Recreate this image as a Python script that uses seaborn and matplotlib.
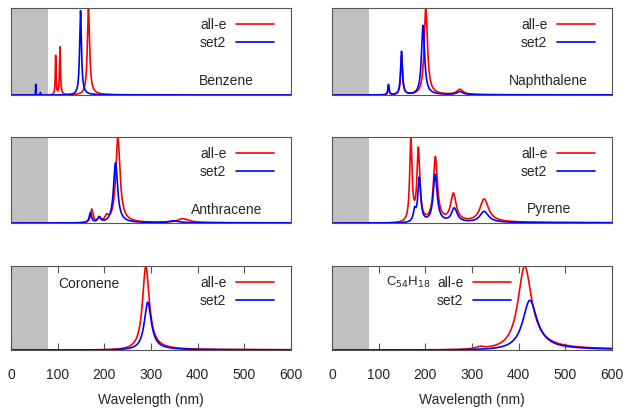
import numpy as np
import pandas as pd
import matplotlib
matplotlib.use("Agg")
import matplotlib.pyplot as plt
import seaborn as sns

sns.set_style("white")
plt.rcParams['font.family'] = ['Liberation Sans', 'DejaVu Sans']
plt.rcParams['font.size'] = 10

# ---- data: peak positions (nm) and apparent heights (relative) ----
benz_alle_nm = [95.7, 105, 166]
benz_alle_h = [0.45, 0.55, 1.0]
benz_set2_nm = [53, 63, 149]
benz_set2_h = [0.13, 0.03, 0.97]

naph_alle_nm = [121, 149, 201, 274]
naph_alle_h = [0.10, 0.45, 1.0, 0.06]
naph_set2_nm = [121, 149, 195, 274]
naph_set2_h = [0.12, 0.50, 0.80, 0.035]

anth_alle_nm = [173, 189, 205, 229, 368]
anth_alle_h = [0.15, 0.05, 0.06, 0.97, 0.045]
anth_set2_nm = [170, 189, 224, 348]
anth_set2_h = [0.11, 0.06, 0.68, 0.022]

pyr_alle_nm = [169, 185, 221.5, 260, 326]
pyr_alle_h = [0.90, 0.78, 0.70, 0.30, 0.25]
pyr_set2_nm = [177, 187, 221, 262, 326]
pyr_set2_h = [0.12, 0.48, 0.52, 0.15, 0.12]

cor_alle_nm = [289]
cor_alle_h = [1.0]
cor_set2_nm = [293]
cor_set2_h = [0.57]

c54_alle_nm = [317, 413]
c54_alle_h = [0.025, 0.98]
c54_set2_nm = [424]
c54_set2_h = [0.58]

names = ["Benzene", "Naphthalene", "Anthracene", "Pyrene", "Coronene", r"C$_{54}$H$_{18}$"]
alle = [(benz_alle_nm, benz_alle_h), (naph_alle_nm, naph_alle_h), (anth_alle_nm, anth_alle_h),
        (pyr_alle_nm, pyr_alle_h), (cor_alle_nm, cor_alle_h), (c54_alle_nm, c54_alle_h)]
set2 = [(benz_set2_nm, benz_set2_h), (naph_set2_nm, naph_set2_h), (anth_set2_nm, anth_set2_h),
        (pyr_set2_nm, pyr_set2_h), (cor_set2_nm, cor_set2_h), (c54_set2_nm, c54_set2_h)]

HWHM_EV = 0.13
wl = np.linspace(1, 600, 3000)


def spectrum(peaks):
    pos, h = peaks
    E = 1239.84 / wl
    s = np.zeros_like(wl)
    for p, a in zip(pos, h):
        E0 = 1239.84 / p
        s += a * HWHM_EV**2 / ((E - E0)**2 + HWHM_EV**2)
    return s


W, H = 626, 411
fig = plt.figure(figsize=(W / 100, H / 100), dpi=100)

col_left = [11, 332]
rows = [(8, 95), (137, 223), (266, 350)]

label_pos = [
    (0.868, 0.16, 'right', 10), (0.914, 0.16, 'right', 10),
    (0.896, 0.15, 'right', 10), (0.854, 0.16, 'right', 10),
    (0.168, 0.78, 'left', 10), (0.193, 0.80, 'left', 9.5),
]
legend_x = [0.973, 0.973, 0.973, 0.973, 0.973, 0.673]

for i, name in enumerate(names):
    r, c = divmod(i, 2)
    top, bot = rows[r]
    ax = fig.add_axes([col_left[c] / W, 1 - bot / H, 280 / W, (bot - top) / H])
    ya = spectrum(alle[i])
    yb = spectrum(set2[i])
    df = pd.DataFrame({"wl": np.concatenate([wl, wl]),
                       "y": np.concatenate([ya, yb]),
                       "method": ["all-e"] * len(wl) + ["set2"] * len(wl)})
    ax.axvspan(0, 80, color="#c0c0c0", lw=0, zorder=0)
    sns.lineplot(data=df, x="wl", y="y", hue="method",
                 palette={"all-e": "#ff0000", "set2": "#0000ff"},
                 lw=1.2, ax=ax, estimator=None, sort=False)
    ax.set_xlim(0, 600)
    ax.set_ylim(0, max(ya.max(), yb.max()) * 1.0)
    ax.set_yticks([])
    ax.set_ylabel("")
    for s in ax.spines.values():
        s.set_color("#555555")
        s.set_linewidth(0.8)
    leg = ax.legend(loc="upper right", markerfirst=False, frameon=False,
                    handlelength=2.75, labelspacing=0.3, handletextpad=0.65,
                    borderaxespad=0.3, bbox_to_anchor=(legend_x[i], 1.0), fontsize=10)
    lx, ly, ha, fs = label_pos[i]
    ax.text(lx, ly, name, transform=ax.transAxes, ha=ha, va="center", fontsize=fs)
    if r == 2:
        ax.set_xticks([0, 100, 200, 300, 400, 500, 600])
        ax.tick_params(axis="x", direction="in", length=5, top=True, bottom=True,
                       color="#555555", pad=13, labelsize=10)
        ax.set_xlabel("Wavelength (nm)", fontsize=10, labelpad=8)
    else:
        ax.set_xticks([])
        ax.set_xlabel("")

fig.savefig("out.png", dpi=100)
